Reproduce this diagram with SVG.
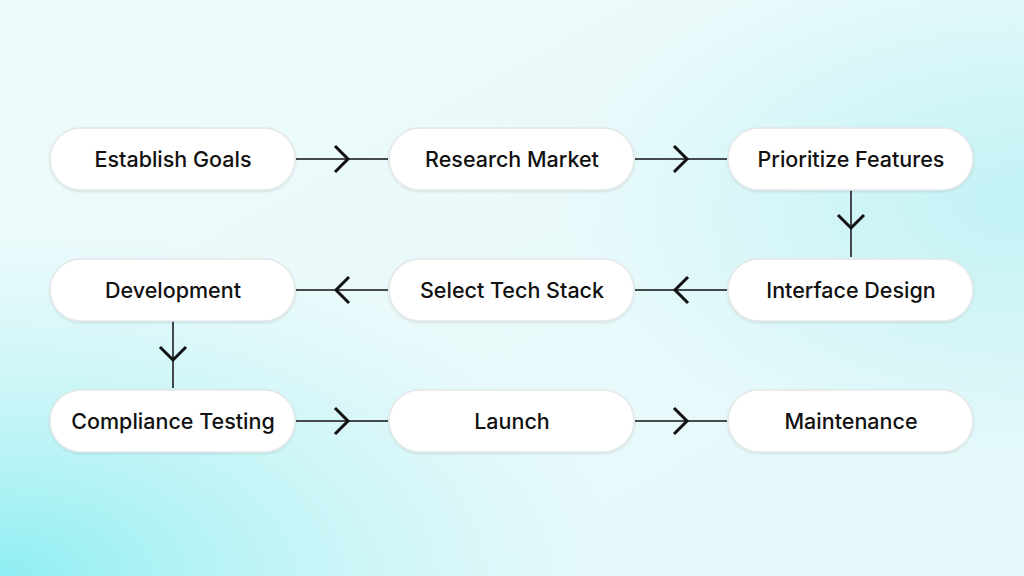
<svg xmlns="http://www.w3.org/2000/svg" width="1024" height="576" viewBox="0 0 1024 576">
<defs>
<linearGradient id="bg" x1="0" y1="0" x2="1" y2="1"><stop offset="0" stop-color="#eefbfc"/><stop offset="1" stop-color="#e4f8fa"/></linearGradient>
<radialGradient id="g1" cx="0" cy="1" r="0.6"><stop offset="0" stop-color="#8eeef2"/><stop offset="1" stop-color="#b8f2f4" stop-opacity="0"/></radialGradient>
<radialGradient id="g2" cx="1" cy="0.35" r="0.45"><stop offset="0" stop-color="#c2f2f5"/><stop offset="1" stop-color="#c2f2f5" stop-opacity="0"/></radialGradient>
<filter id="sh" x="-10%" y="-20%" width="120%" height="140%"><feDropShadow dx="0" dy="1" stdDeviation="1" flood-color="#000" flood-opacity="0.12"/></filter>
</defs>
<style>
.n rect{fill:#fff;stroke:#e4e8e8;stroke-width:1.5;filter:url(#sh)}
.n text{font-family:Inter,"Liberation Sans",sans-serif;font-size:21.5px;font-weight:500;fill:#111;text-anchor:middle;dominant-baseline:central}
.c line,.c path{stroke:#111;fill:none}
.c line{stroke-width:1.5}
.c path{stroke-width:3}
</style>
<rect width="1024" height="576" fill="url(#bg)"/>
<rect width="1024" height="576" fill="url(#g1)"/>
<rect width="1024" height="576" fill="url(#g2)"/>
<g class="c">
<line x1="296" y1="159" x2="388" y2="159"/><path d="M335 146L348 159L335 172"/>
<line x1="635" y1="159" x2="727" y2="159"/><path d="M674 146L687 159L674 172"/>
<line x1="851" y1="190" x2="851" y2="257"/><path d="M838 215L851 228L864 215"/>
<line x1="635" y1="290" x2="727" y2="290"/><path d="M688 277L675 290L688 303"/>
<line x1="296" y1="290" x2="388" y2="290"/><path d="M349 277L336 290L349 303"/>
<line x1="173" y1="321" x2="173" y2="388"/><path d="M160 347L173 360L186 347"/>
<line x1="296" y1="421" x2="388" y2="421"/><path d="M335 408L348 421L335 434"/>
<line x1="635" y1="421" x2="727" y2="421"/><path d="M674 408L687 421L674 434"/>
</g>
<g id="n1" class="n"><rect x="50" y="128" width="245" height="62" rx="31"/><text x="173" y="159">Establish Goals</text></g>
<g id="n2" class="n"><rect x="389" y="128" width="245" height="62" rx="31"/><text x="512" y="159">Research Market</text></g>
<g id="n3" class="n"><rect x="728" y="128" width="245" height="62" rx="31"/><text x="851" y="159">Prioritize Features</text></g>
<g id="n4" class="n"><rect x="728" y="259" width="245" height="62" rx="31"/><text x="851" y="290">Interface Design</text></g>
<g id="n5" class="n"><rect x="389" y="259" width="245" height="62" rx="31"/><text x="512" y="290">Select Tech Stack</text></g>
<g id="n6" class="n"><rect x="50" y="259" width="245" height="62" rx="31"/><text x="173" y="290">Development</text></g>
<g id="n7" class="n"><rect x="50" y="390" width="245" height="62" rx="31"/><text x="173" y="421">Compliance Testing</text></g>
<g id="n8" class="n"><rect x="389" y="390" width="245" height="62" rx="31"/><text x="512" y="421">Launch</text></g>
<g id="n9" class="n"><rect x="728" y="390" width="245" height="62" rx="31"/><text x="851" y="421">Maintenance</text></g>
</svg>
